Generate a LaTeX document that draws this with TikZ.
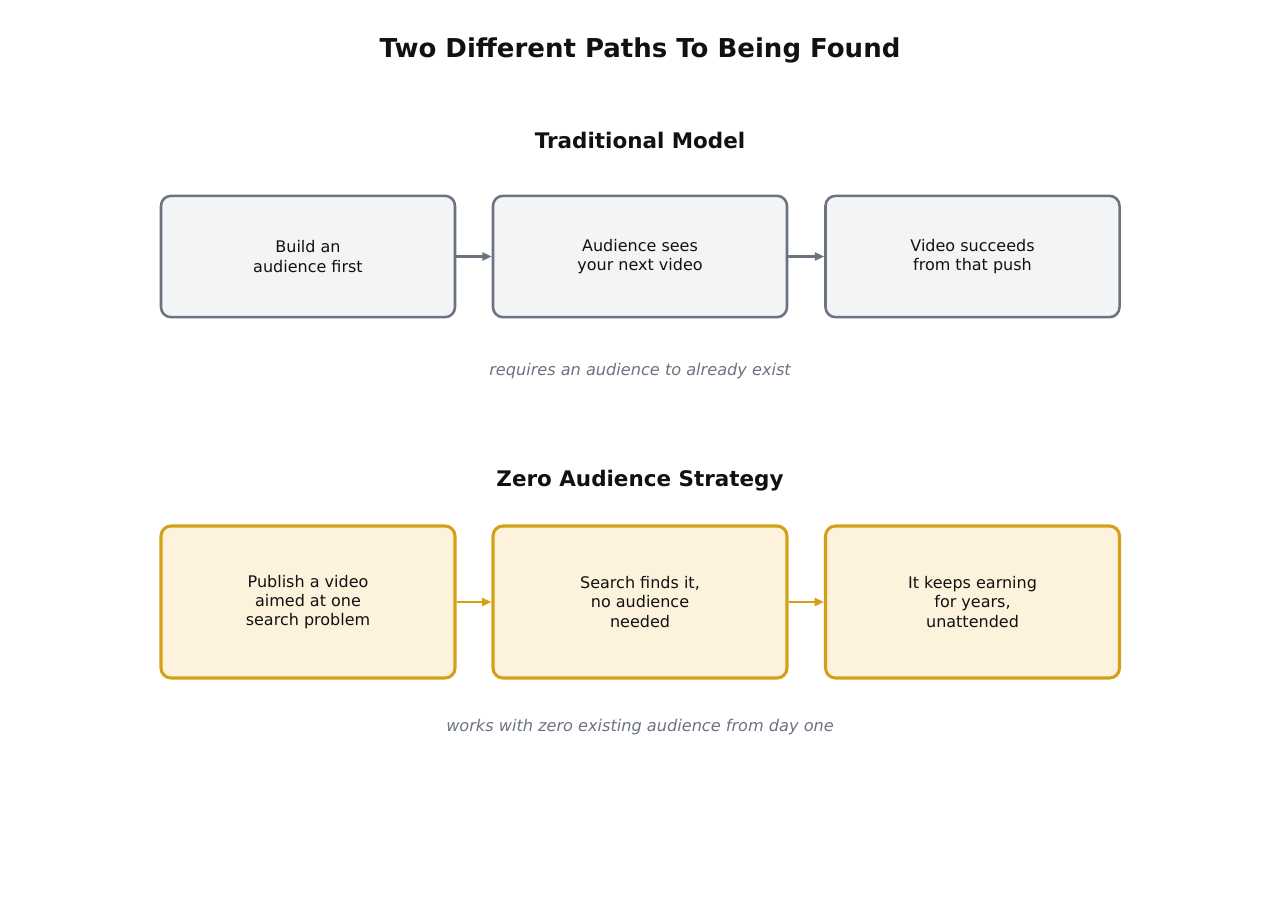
\documentclass[tikz,border=0pt]{standalone}
\usepackage{fontspec}
\setmainfont{DejaVu Sans}
\usetikzlibrary{arrows.meta}
\definecolor{tgray}{HTML}{6B7280}
\definecolor{tfill}{HTML}{F3F4F6}
\definecolor{zgold}{HTML}{D4A017}
\definecolor{zfill}{HTML}{FDF3DC}
\definecolor{ink}{HTML}{111111}
\begin{document}
\begin{tikzpicture}[x=0.75pt,y=-0.75pt,
  tbox/.style={draw=tgray,fill=tfill,line width=1.9pt,rounded corners=7.5pt,minimum width=220.5pt,minimum height=91pt,align=center,inner sep=0pt,font=\fontsize{12}{14.3}\selectfont,text=ink},
  zbox/.style={draw=zgold,fill=zfill,line width=2.3pt,rounded corners=7.5pt,minimum width=220.5pt,minimum height=114pt,align=center,inner sep=0pt,font=\fontsize{12}{14.3}\selectfont,text=ink},
  tarr/.style={draw=tgray,line width=1.6pt,-{Triangle[length=7pt,width=6pt]}},
  zarr/.style={draw=zgold,line width=1.8pt,-{Triangle[length=7pt,width=6pt]}},
  head/.style={font=\bfseries\fontsize{16.1}{20}\selectfont,text=ink},
  note/.style={font=\itshape\fontsize{12.1}{14}\selectfont,text=tgray}]
\useasboundingbox (0,0) rectangle (1280,918);
\node[font=\bfseries\fontsize{19.5}{23}\selectfont,text=ink] (title) at (640,50) {Two Different Paths To Being Found};
\node[head] (th) at (640,140) {Traditional Model};
\node[tbox] (t1) at (308,256.5) {Build an\\audience first};
\node[tbox] (t2) at (640,256.5) {Audience sees\\your next video};
\node[tbox] (t3) at (972.5,256.5) {Video succeeds\\from that push};
\draw[tarr] (t1.east) -- (t2.west);
\draw[tarr] (t2.east) -- (t3.west);
\node[note] (tn) at (640,371) {requires an audience to already exist};
\node[head] (zh) at (640,481) {Zero Audience Strategy};
\node[zbox] (z1) at (308,602) {Publish a video\\aimed at one\\search problem};
\node[zbox] (z2) at (640,602) {Search finds it,\\no audience\\needed};
\node[zbox] (z3) at (972.5,602) {It keeps earning\\for years,\\unattended};
\draw[zarr] (z1.east) -- (z2.west);
\draw[zarr] (z2.east) -- (z3.west);
\node[note] (zn) at (640,727) {works with zero existing audience from day one};
\end{tikzpicture}
\end{document}
